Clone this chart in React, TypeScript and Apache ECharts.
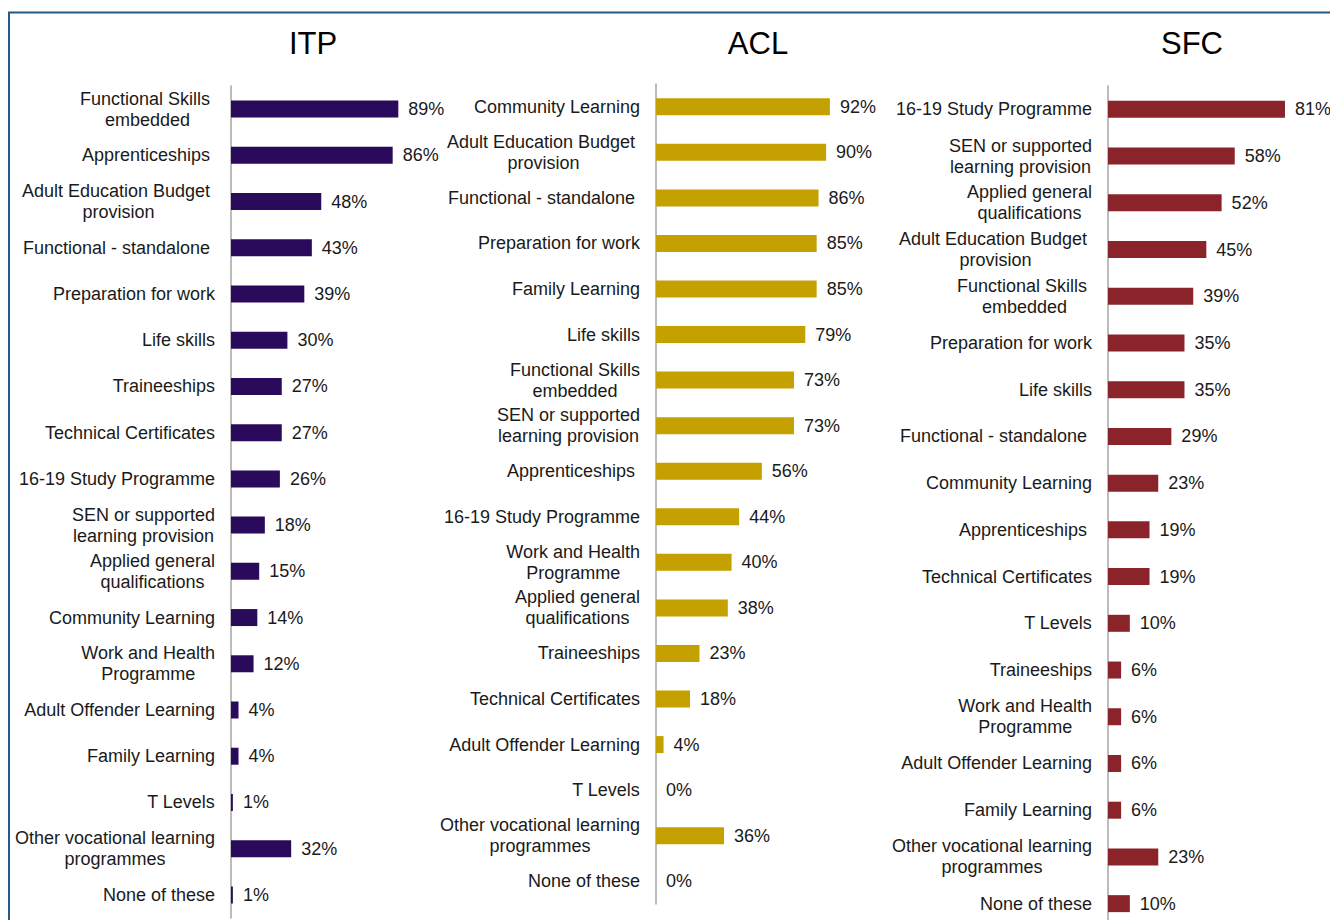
import React, { useEffect, useRef } from "react";
import * as echarts from "echarts";

const itpCategories = [
  "Functional Skills embedded",
  "Apprenticeships",
  "Adult Education Budget provision",
  "Functional - standalone",
  "Preparation for work",
  "Life skills",
  "Traineeships",
  "Technical Certificates",
  "16-19 Study Programme",
  "SEN or supported learning provision",
  "Applied general qualifications",
  "Community Learning",
  "Work and Health Programme",
  "Adult Offender Learning",
  "Family Learning",
  "T Levels",
  "Other vocational learning programmes",
  "None of these",
];
const itpValues = [89, 86, 48, 43, 39, 30, 27, 27, 26, 18, 15, 14, 12, 4, 4, 1, 32, 1];

const aclCategories = [
  "Community Learning",
  "Adult Education Budget provision",
  "Functional - standalone",
  "Preparation for work",
  "Family Learning",
  "Life skills",
  "Functional Skills embedded",
  "SEN or supported learning provision",
  "Apprenticeships",
  "16-19 Study Programme",
  "Work and Health Programme",
  "Applied general qualifications",
  "Traineeships",
  "Technical Certificates",
  "Adult Offender Learning",
  "T Levels",
  "Other vocational learning programmes",
  "None of these",
];
const aclValues = [92, 90, 86, 85, 85, 79, 73, 73, 56, 44, 40, 38, 23, 18, 4, 0, 36, 0];

const sfcCategories = [
  "16-19 Study Programme",
  "SEN or supported learning provision",
  "Applied general qualifications",
  "Adult Education Budget provision",
  "Functional Skills embedded",
  "Preparation for work",
  "Life skills",
  "Functional - standalone",
  "Community Learning",
  "Apprenticeships",
  "Technical Certificates",
  "T Levels",
  "Traineeships",
  "Work and Health Programme",
  "Adult Offender Learning",
  "Family Learning",
  "Other vocational learning programmes",
  "None of these",
];
const sfcValues = [81, 58, 52, 45, 39, 35, 35, 29, 23, 19, 19, 10, 6, 6, 6, 6, 23, 10];

const panelTitles = ["ITP", "ACL", "SFC"];

const wrapMap: Record<string, string[]> = {
  "Functional Skills embedded": ["Functional Skills", "embedded"],
  "Adult Education Budget provision": ["Adult Education Budget", "provision"],
  "SEN or supported learning provision": ["SEN or supported", "learning provision"],
  "Applied general qualifications": ["Applied general", "qualifications"],
  "Work and Health Programme": ["Work and Health", "Programme"],
  "Other vocational learning programmes": ["Other vocational learning", "programmes"],
};
// label lines that carry a trailing space in the original, per panel
const itpPadded = ["Apprenticeships", "Functional - standalone", "Adult Education Budget", "Functional Skills"];
const aclPadded = ["Apprenticeships", "Functional - standalone", "Adult Education Budget"];
const sfcPadded = ["Apprenticeships", "Functional - standalone", "Adult Education Budget", "Functional Skills"];

const FONT = "'Liberation Sans', Arial, sans-serif";
const TEXT = "#1a1a1a";

export default function App() {
  const ref = useRef<HTMLDivElement>(null);

  useEffect(() => {
    document.body.style.margin = "0";
    if (!ref.current) return;
    const chart = echarts.init(ref.current, undefined, { renderer: "svg" });

    const panels = [
      { cats: itpCategories, vals: itpValues, padded: itpPadded, color: "#2A0B5B", left: 231, top: 86, width: 188, height: 832, title: 313 },
      { cats: aclCategories, vals: aclValues, padded: aclPadded, color: "#C4A000", left: 656, top: 84, width: 189, height: 820, title: 758 },
      { cats: sfcCategories, vals: sfcValues, padded: sfcPadded, color: "#8B242A", left: 1108, top: 86, width: 218.5, height: 841, title: 1192 },
    ];

    const tokenStyle = { fontSize: 18, lineHeight: 21, fontFamily: FONT, color: TEXT, align: "center" };

    const option: any = {
      animation: false,
      backgroundColor: "#ffffff",
      grid: panels.map((p) => ({
        left: p.left,
        top: p.top,
        width: p.width,
        height: p.height,
        containLabel: false,
        outerBoundsMode: "none",
      })),
      xAxis: panels.map((_, i) => ({
        type: "value",
        gridIndex: i,
        min: 0,
        max: 100,
        show: false,
      })),
      yAxis: panels.map((p, i) => ({
        type: "category",
        gridIndex: i,
        data: p.cats,
        inverse: true,
        axisTick: { show: false },
        axisLine: { show: true, lineStyle: { color: "#A6A6A6", width: 1.5 } },
        splitLine: { show: false },
        axisLabel: {
          margin: 16,
          fontSize: 18,
          lineHeight: 21,
          fontFamily: FONT,
          color: TEXT,
          interval: 0,
          formatter: (v: string) => {
            const lines = wrapMap[v] || [v];
            return lines
              .map((l) => (p.padded.indexOf(l) >= 0 ? `{p|${l}}` : `{c|${l}}`))
              .join("\n");
          },
          rich: {
            c: { ...tokenStyle },
            p: { ...tokenStyle, padding: [0, 5, 0, 0] },
          },
        },
      })),
      series: panels.map((p, i) => ({
        type: "bar",
        xAxisIndex: i,
        yAxisIndex: i,
        data: p.vals,
        barWidth: 17,
        itemStyle: { color: p.color },
        label: {
          show: true,
          position: "right",
          distance: 10,
          formatter: "{c}%",
          fontSize: 18,
          fontFamily: FONT,
          color: TEXT,
        },
      })),
      graphic: [
        {
          type: "rect",
          shape: { x: 9, y: 12.5, width: 1400, height: 1000 },
          style: { fill: "none", stroke: "#24598A", lineWidth: 2 },
          silent: true,
        },
        ...panels.map((p, i) => ({
          type: "text",
          x: p.title,
          y: 43,
          style: {
            text: panelTitles[i],
            fontSize: 31,
            fontFamily: FONT,
            fill: "#000000",
            align: "center",
            verticalAlign: "middle",
          },
        })),
      ],
    };

    chart.setOption(option);
    return () => chart.dispose();
  }, []);

  return <div ref={ref} style={{ width: 1330, height: 920, display: "block" }} />;
}
